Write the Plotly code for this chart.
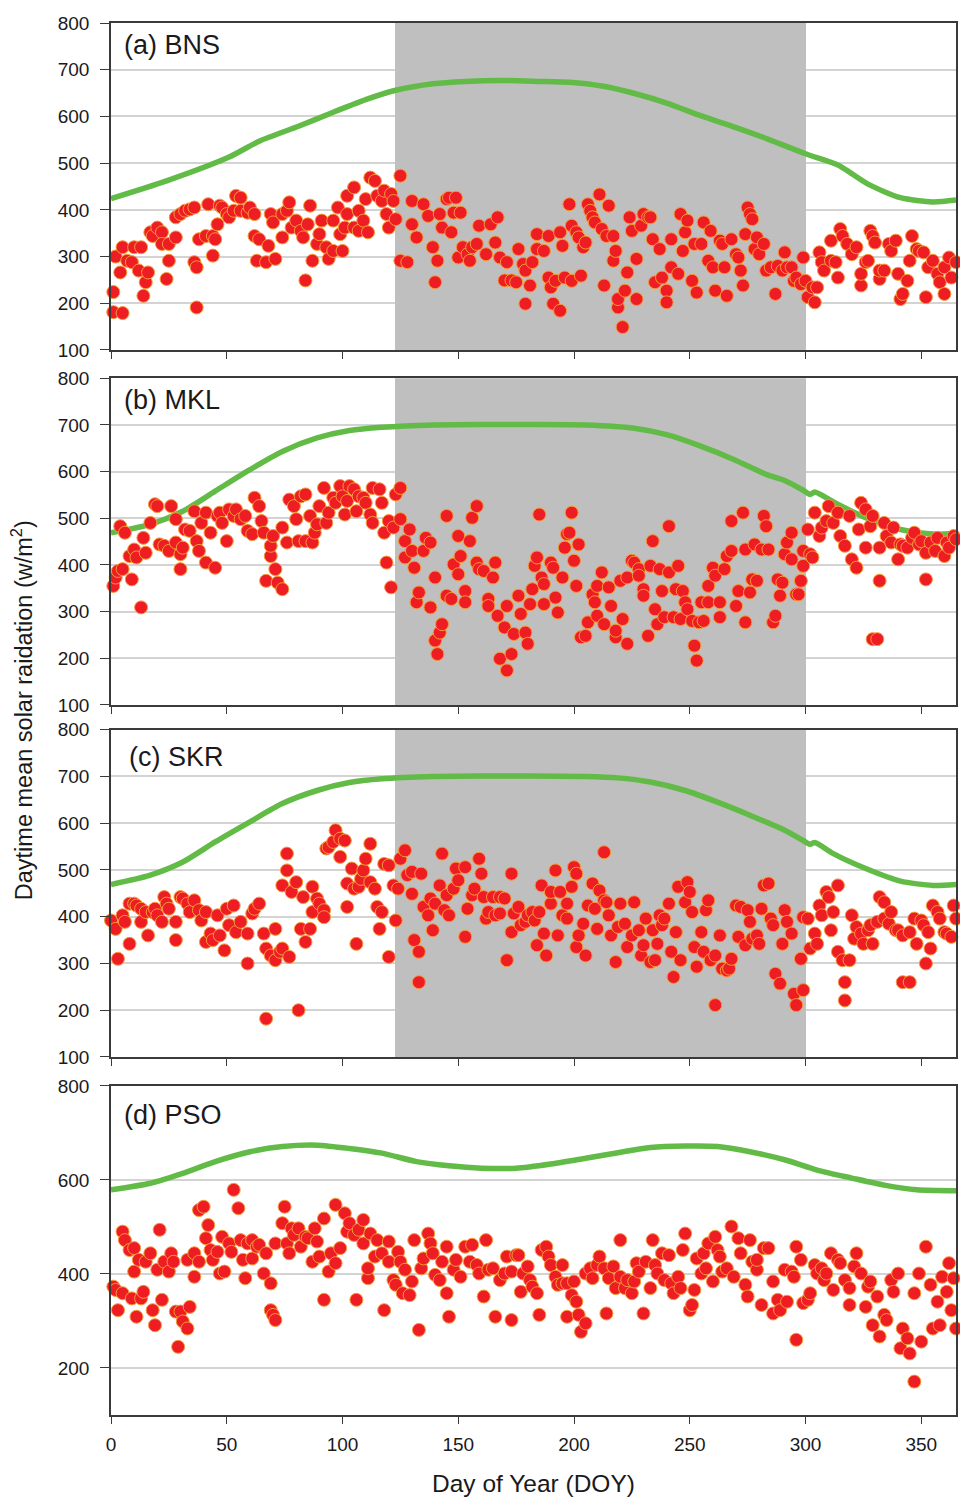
import plotly.graph_objects as go

# ---------------- data ----------------
# Panel (a) BNS : daily daytime-mean solar radiation (DOY, W/m2)
BNS_PTS = [
(1,224),(1,181),(5,179),(2,300),(5,320),(4,266),(7,291),(9,288),(10,320),(12,270),(13,320),(14,216),(15,245),(16,266),
(17,352),(18,344),(20,362),(22,352),(22,327),(24,252),(25,291),(25,327),(28,341),(28,384),(30,391),(32,398),(34,401),
(36,405),(36,288),(37,277),(37,191),(38,337),(41,344),(42,412),(44,344),(45,337),(44,302),(46,369),(47,409),(48,405),
(50,391),(51,384),(53,398),(54,430),(56,426),(56,398),(59,394),(60,405),(62,391),(62,344),(64,337),(63,291),(67,288),
(68,323),(69,391),(70,373),(71,295),(74,341),(74,391),(76,398),(77,416),(78,362),(80,377),(82,355),(83,341),(84,249),
(85,369),(86,409),(87,291),(89,327),(90,348),(91,377),(93,320),(94,295),(96,377),(96,312),(98,405),(99,348),(100,312),
(101,362),(102,391),(102,430),(105,448),(105,362),(107,355),(107,398),(109,377),(110,423),(111,352),(112,469),(114,462),
(115,430),(117,419),(118,441),(119,391),(120,362),(121,434),(122,419),(123,380),(125,473),(125,291),(128,288),(130,419),
(130,369),(132,341),(135,412),(137,387),(139,320),(140,245),(141,291),(142,391),(143,362),(145,423),(146,426),(147,352),
(148,394),(149,426),(150,298),(151,394),(152,320),(154,305),(155,291),(156,320),(158,327),(159,366),(162,305),(164,369),
(166,330),(167,384),(168,298),(170,249),(171,288),(173,249),(175,245),
(176,316),(178,284),(179,270),(181,238),(182,288),(179,199),(184,316),(184,348),(187,312),(189,344),(189,255),(190,234),
(191,199),(192,248),(194,184),(194,352),(195,323),(196,255),(198,412),(199,366),(199,248),(201,352),(202,341),(203,259),
(204,320),(205,330),(206,412),(207,398),(208,384),(209,373),(211,433),(212,359),(213,238),(214,344),(215,409),(217,344),
(217,291),(218,312),(219,191),(219,209),(221,149),(222,227),(223,266),(224,384),(225,355),(227,295),(227,209),(229,366),
(230,391),(232,384),(233,384),(234,337),(235,245),(237,316),(238,255),(240,227),(240,202),(242,277),(242,337),(245,263),
(246,391),(247,312),(248,352),(249,377),(251,248),(252,327),(253,223),(255,327),(256,373),(258,291),(259,355),(260,277),
(261,227),(263,334),(264,327),(265,277),(266,216),(268,337),(270,305),(271,298),(272,270),(273,238),(274,348),(275,405),
(276,391),(277,380),(278,316),(279,341),(280,305),(282,327),(283,270),(285,277),(287,220),(288,280),(290,270),(291,309),
(292,277),(294,277),(295,248),(296,255),(298,241),(299,298),(300,248),(301,213),(303,234),(304,202),(305,234),(306,309),
(307,288),(308,270),(311,334),(311,291),(313,288),(314,255),(315,359),(316,344),(318,327),(320,305),(322,320),(324,238),
(324,263),(326,288),(327,291),(328,355),(329,344),(330,330),(332,252),(332,270),(334,270),(336,327),(337,312),(339,334),
(340,263),(341,209),(342,220),(344,248),(345,291),(346,344),(348,316),(349,312),(351,309),(352,213),(353,277),(355,291),
(357,263),(358,245),(360,220),(360,277),(362,298),(363,255),(365,288),
]
BNS_CURVE_DOY = [0, 24, 51, 64, 81, 96, 110, 123, 139, 153, 168, 185, 198, 212, 227, 241, 255, 270, 284, 300, 314, 318, 327, 341, 355, 365]
BNS_CURVE_SR  = [424, 462, 513, 547, 579, 609, 636, 656, 670, 675, 677, 675, 673, 665, 648, 627, 601, 576, 551, 520, 496, 484, 455, 426, 417, 421]

# Panel (b) MKL
MKL_PTS = [
(1,355),(2,373),(3,387),(5,391),(4,483),(6,469),(9,369),(8,419),(10,433),(11,416),(13,309),(14,458),(15,426),(17,490),
(19,530),(20,526),(21,444),(23,441),(25,430),(26,526),(28,498),(28,448),(30,423),(30,391),(31,437),(32,476),(34,473),
(36,515),(37,451),(38,430),(39,490),(41,405),(41,512),(43,469),(45,394),(46,505),(47,512),(48,490),(50,451),(51,519),
(53,505),(54,519),(56,498),(58,505),(59,473),(61,466),(62,544),(64,526),(65,494),(66,469),(67,366),(69,419),(69,441),
(70,462),(71,391),(72,362),(74,348),(74,480),(76,448),(77,540),(79,526),(80,498),(81,451),(82,547),(84,551),(84,451),
(86,505),(87,448),(88,469),(89,487),(90,526),(92,565),(93,490),(94,512),(96,544),(97,533),(99,569),(100,547),(101,508),
(102,537),(103,569),(105,562),(106,515),(107,547),(109,544),(110,533),(112,508),(113,490),(113,565),(116,562),(117,533),
(118,469),(119,405),(120,494),(121,352),(122,480),(123,551),(125,565),(125,498),(127,416),(127,451),(129,476),(130,430),
(131,394),(132,320),(133,341),(135,430),(136,458),(138,448),(138,309),(140,373),(140,238),(142,255),(143,273),(141,209),
(145,505),(145,334),(147,327),(148,401),(150,462),(150,380),(151,419),(153,344),(153,320),(155,451),(156,501),(158,526),
(158,405),(159,391),(161,387),(163,327),(163,312),(165,373),(166,405),(167,291),(168,199),(170,266),(171,174),(171,312),
(173,209),(174,252),
(176,334),(177,295),(179,255),(180,231),(181,316),(182,348),(183,398),(184,416),(185,508),(186,373),(187,359),(187,316),
(190,405),(191,394),(192,330),(193,298),(195,373),(196,437),(197,466),(198,469),(199,512),(200,409),(201,355),(202,444),
(203,245),(205,248),(206,277),(208,337),(209,320),(210,291),(210,355),(212,384),(213,273),(215,352),(216,312),(218,245),
(218,259),(220,366),(221,284),(223,231),(223,373),(225,409),(226,405),(228,391),(228,377),(230,348),(230,334),(232,248),
(233,398),(234,451),(235,305),(236,273),(237,391),(238,344),(239,288),(241,483),(241,384),(243,288),(244,348),(245,398),
(246,284),(247,344),(248,320),(249,305),(251,280),(252,227),(253,195),(254,277),(255,320),(256,280),(258,355),(258,320),
(260,394),(261,377),(263,320),(263,288),(265,391),(266,419),(268,430),(268,494),(270,312),(271,344),(273,512),(274,433),
(274,277),(276,341),(277,369),(278,444),(279,366),(281,433),(282,505),(283,483),(284,433),(286,277),(287,291),(288,369),
(289,334),(290,362),(291,423),(292,448),(294,469),(294,412),(296,337),(297,337),(298,366),(299,398),(299,430),(301,476),
(302,423),(303,416),(304,512),(306,462),(307,480),(309,494),(310,526),(312,490),(314,512),(315,462),(317,441),(319,505),
(320,412),(322,394),(323,476),(324,533),(326,519),(326,437),(328,483),(329,505),(329,241),(331,241),(332,366),(332,437),
(334,490),(335,462),(337,448),(338,480),(340,412),(341,444),(342,441),(344,437),(346,458),(347,469),(349,444),(350,451),
(352,369),(352,426),(354,448),(356,430),(357,458),(360,419),(361,448),(362,437),(364,462),(365,455),
]
MKL_CURVE_DOY = [0, 17, 31, 45, 60, 74, 89, 103, 117, 139, 160, 180, 205, 226, 240, 255, 269, 283, 291, 299, 302, 304, 312, 326, 341, 355, 365]
MKL_CURVE_SR  = [469, 487, 515, 558, 604, 643, 672, 688, 695, 700, 701, 701, 700, 693, 679, 654, 626, 594, 581, 560, 551, 556, 535, 501, 476, 466, 468]

# Panel (c) SKR
SKR_PTS = [
(0,392),(2,374),(3,310),(5,403),(6,389),(8,342),(8,428),(10,428),(11,424),(13,417),(13,389),(15,410),(16,360),(18,410),
(19,417),(20,403),(22,389),(23,442),(24,428),(25,417),(28,389),(28,350),(30,442),(31,439),(33,428),(34,410),(36,435),
(38,414),(39,392),(41,346),(41,410),(43,364),(44,350),(46,403),(47,360),(49,328),(50,417),(51,382),(53,424),(54,367),
(56,389),(59,300),(59,364),(61,407),(62,417),(64,428),(66,364),(67,332),(67,182),(69,317),(71,374),(71,307),(73,325),
(74,332),(74,467),(76,499),(76,535),(77,314),(78,453),(80,474),(81,200),(82,374),(83,442),(84,346),(86,374),(87,464),
(87,410),(89,439),(90,428),(92,414),(92,399),(93,546),(94,549),(96,560),(97,585),(99,567),(99,528),(101,563),(102,471),
(102,421),(104,503),(105,460),(106,342),(107,464),(108,481),(109,499),(110,524),(112,474),(112,556),(114,460),(115,421),
(116,374),(117,410),(118,513),(120,510),(120,314),(122,467),(123,392),(124,460),(125,524),(127,542),(128,489),(130,449),
(130,496),(131,350),(133,325),(133,260),(134,492),(135,421),(137,403),(138,439),(139,371),(140,428),(142,467),(143,535),
(144,414),(145,446),(146,403),(148,460),(149,503),(150,478),(153,506),(153,357),(154,417),(156,446),(157,460),(159,524),
(160,492),(161,442),(162,396),(163,410),(165,442),(166,403),(168,442),(168,407),(170,439),(171,307),(173,492),(173,367),
(174,407),
(176,421),(177,382),(179,389),(180,403),(182,410),(183,392),(184,339),(185,410),(186,467),(187,364),(188,317),(190,428),
(190,453),(192,499),(193,360),(194,453),(195,403),(197,396),(197,428),(199,464),(200,506),(201,492),(201,335),(202,360),
(204,385),(205,317),(206,424),(208,471),(209,417),(210,374),(211,456),(213,435),(213,538),(214,431),(215,403),(216,360),
(218,303),(219,378),(220,428),(222,385),(223,335),(225,360),(226,431),(228,371),(229,317),(230,339),(231,396),(233,303),
(234,371),(235,307),(236,342),(237,403),(238,382),(239,396),(241,428),(242,325),(243,271),(244,367),(245,464),(246,307),
(248,431),(249,474),(250,453),(251,410),(252,335),(253,293),(255,367),(256,325),(257,414),(258,435),(259,307),(261,211),
(261,317),(263,360),(264,289),(266,285),(267,289),(268,310),(270,424),(271,357),(272,421),(274,339),(275,414),(276,389),
(277,353),(279,360),(280,342),(281,417),(282,467),(284,471),(285,396),(286,382),(287,278),(289,257),(290,342),(291,414),
(292,389),(294,364),(295,235),(296,211),(298,310),(299,243),(299,399),(301,396),(302,332),(304,364),(305,342),(306,424),
(307,403),(309,453),(310,442),(311,371),(312,410),(314,467),(314,325),(316,307),(317,260),(317,221),(319,307),(320,403),
(321,353),(322,378),(324,364),(325,342),(327,371),(328,382),(329,342),(331,389),(332,442),(334,431),(334,396),(336,385),
(337,410),(339,371),(340,371),(342,360),(342,260),(345,260),(345,367),(347,396),(348,342),(350,392),(351,382),(352,300),
(353,367),(354,332),(355,424),(357,410),(358,396),(360,367),(361,364),(363,357),(364,424),(365,396),
]
SKR_CURVE_DOY = [0, 17, 31, 45, 60, 74, 89, 103, 117, 139, 160, 180, 205, 219, 233, 248, 262, 276, 291, 299, 302, 304, 312, 326, 341, 355, 365]
SKR_CURVE_SR  = [469, 489, 517, 560, 603, 642, 670, 687, 695, 700, 701, 701, 700, 697, 688, 670, 645, 617, 585, 563, 555, 559, 535, 503, 476, 467, 469]

# Panel (d) PSO
PSO_PTS = [
(1,373),(2,366),(3,323),(5,359),(5,490),(6,472),(8,451),(9,348),(10,455),(10,405),(11,309),(12,430),(13,348),(14,362),
(15,426),(17,444),(18,323),(19,291),(20,409),(21,494),(22,345),(23,426),(25,405),(26,444),(27,426),(28,320),(29,245),
(30,320),(31,299),(33,284),(33,430),(34,330),(36,444),(36,394),(38,426),(38,536),(40,543),(42,504),(41,476),(43,451),
(44,430),(46,447),(47,401),(48,479),(49,405),(51,465),(52,447),(53,579),(55,540),(56,472),(57,430),(58,391),(59,465),
(61,472),(61,433),(63,458),(64,462),(66,401),(67,444),(69,380),(69,323),(70,313),(71,302),(71,465),(74,508),(75,543),
(76,465),(77,444),(78,497),(79,483),(81,497),(82,458),(84,479),(85,476),(87,426),(88,497),(89,469),(90,437),(92,518),
(92,345),(94,405),(95,444),(97,547),(97,423),(99,455),(101,529),(102,490),(103,508),(105,483),(106,345),(107,494),
(109,515),(109,465),(111,391),(111,412),(112,486),(114,437),(115,472),(117,444),(118,323),(120,469),(120,426),(122,387),
(123,377),(124,447),(125,426),(126,359),(127,409),(129,355),(130,384),(131,472),(133,281),(134,412),(135,433),(137,486),
(138,465),(139,444),(140,398),(142,387),(143,426),(145,458),(145,359),(146,309),(148,409),(149,430),(151,394),(153,458),
(155,426),(156,462),(158,419),(159,401),(161,352),(162,472),(163,409),(165,412),(166,309),(168,387),(170,401),(171,437),
(173,302),(173,405),(175,440),
(176,440),(177,362),(178,401),(180,416),(181,387),(182,373),(184,359),(185,313),(186,451),(188,458),(189,437),(190,419),
(192,394),(193,377),(195,380),(195,419),(197,380),(197,309),(199,355),(200,384),(201,341),(202,313),(203,277),(205,295),
(205,401),(207,412),(208,391),(210,419),(211,437),(213,412),(214,316),(215,391),(217,416),(218,370),(220,472),(220,394),
(222,370),(223,387),(225,359),(226,384),(227,423),(228,405),(230,316),(231,426),(233,370),(234,472),(235,419),(236,401),
(238,444),(239,387),(241,440),(242,380),(243,359),(245,394),(246,370),(247,451),(248,486),(250,323),(251,334),(252,366),
(253,433),(255,401),(256,444),(257,412),(258,465),(260,384),(261,479),(262,451),(263,437),(264,405),(266,412),(268,501),
(269,394),(271,476),(272,444),(274,377),(275,352),(276,472),(277,426),(279,409),(279,430),(281,334),(282,455),(284,455),
(286,384),(286,316),(288,345),(289,323),(291,409),(292,341),(294,405),(295,394),(296,260),(296,458),(298,430),(299,338),
(301,345),(302,359),(304,419),(305,401),(307,412),(308,387),(309,401),(311,444),(312,366),(314,430),(315,423),(317,387),
(319,370),(319,334),(321,416),(322,444),(324,401),(326,330),(327,373),(328,384),(329,291),(331,352),(332,267),(334,313),
(335,302),(337,387),(338,362),(340,401),(341,242),(342,284),(344,263),(345,231),(347,171),(347,359),(349,401),(350,256),
(352,458),(354,377),(355,284),(357,341),(358,291),(359,394),(361,362),(362,423),(363,323),(364,391),(365,284),
]
PSO_CURVE_DOY = [0, 17, 31, 45, 60, 74, 89, 103, 117, 132, 146, 160, 175, 190, 205, 219, 233, 248, 262, 276, 291, 305, 320, 334, 348, 365]
PSO_CURVE_SR  = [579, 593, 614, 639, 660, 671, 674, 667, 657, 639, 630, 625, 625, 634, 646, 658, 669, 672, 671, 660, 643, 621, 604, 589, 579, 577]

PANEL_LABELS = ["(a) BNS", "(b) MKL", "(c) SKR", "(d) PSO"]
SHADE_DOY = [122.5, 300]           # grey band (panels a-c)
Y_RANGE = [100, 800]
X_RANGE = [0, 365]
X_TICKS = [0, 50, 100, 150, 200, 250, 300, 350]
Y_TICKS_ABC = [100, 200, 300, 400, 500, 600, 700, 800]
Y_TICKS_D = [200, 400, 600, 800]

# ---------------- styling ----------------
W, H = 960, 1497
ML, MR, MT, MB = 111, 2, 23, 82
DOMAINS = [(0.7651, 1.0), (0.5101, 0.7448), (0.2572, 0.4923), (0.0, 0.2364)]
LABEL_POS = [(122, 44.5), (122, 399.5), (127, 757), (122, 1115)]
AX = "#3a3a3a"
GRID = "#D3D3D3"
TXT = "#1a1a1a"
FONT = "Liberation Sans, Arial, sans-serif"
RED = "#EE1D24"
ORANGE = "#F59A3A"
GREEN = "#62BB46"
SHADE = "#BFBFBF"

panels = [
    (BNS_PTS, BNS_CURVE_DOY, BNS_CURVE_SR, True),
    (MKL_PTS, MKL_CURVE_DOY, MKL_CURVE_SR, True),
    (SKR_PTS, SKR_CURVE_DOY, SKR_CURVE_SR, True),
    (PSO_PTS, PSO_CURVE_DOY, PSO_CURVE_SR, False),
]

fig = go.Figure()
layout = dict(
    width=W, height=H,
    margin=dict(l=ML, r=MR, t=MT, b=MB),
    paper_bgcolor="white", plot_bgcolor="white",
    showlegend=False, bargap=0,
    font=dict(family=FONT, color=TXT, size=19),
)
annotations = []
plot_h = H - MT - MB
plot_w = W - ML - MR

for i, (pts, cdoy, csr, shaded) in enumerate(panels, start=1):
    xs = "" if i == 1 else str(i)
    doy = [p[0] for p in pts]
    sr = [p[1] for p in pts]

    if shaded:
        # grey band as a bar spanning the full y range (drawn above grid, below data)
        fig.add_trace(go.Bar(
            x=[(SHADE_DOY[0] + SHADE_DOY[1]) / 2], y=[Y_RANGE[1] - Y_RANGE[0]],
            base=[Y_RANGE[0]], width=[SHADE_DOY[1] - SHADE_DOY[0]],
            marker=dict(color=SHADE, line=dict(width=0)),
            xaxis="x" + xs, yaxis="y" + xs, hoverinfo="skip"))
    fig.add_trace(go.Scatter(
        x=cdoy, y=csr, mode="lines",
        line=dict(color=GREEN, width=5.5, shape="spline", smoothing=0.7),
        xaxis="x" + xs, yaxis="y" + xs, hoverinfo="skip"))
    fig.add_trace(go.Scatter(
        x=doy, y=sr, mode="markers", cliponaxis=False,
        marker=dict(size=13, color=RED, line=dict(color=ORANGE, width=1)),
        xaxis="x" + xs, yaxis="y" + xs))

    is_last = (i == 4)
    layout["xaxis" + xs] = dict(
        domain=[0, 1], anchor="y" + xs, range=X_RANGE,
        tickvals=X_TICKS, ticks="outside", ticklen=7, tickwidth=1.3, tickcolor=AX,
        showline=True, linecolor=AX, linewidth=1.5, mirror=True,
        showgrid=False, zeroline=False,
        showticklabels=is_last, ticklabelstandoff=4,
        tickfont=dict(size=19, color=TXT, family=FONT),
    )
    layout["yaxis" + xs] = dict(
        domain=list(DOMAINS[i - 1]), anchor="x" + xs, range=Y_RANGE,
        tickvals=(Y_TICKS_D if is_last else Y_TICKS_ABC),
        ticks="outside", ticklen=9, tickwidth=1.3, tickcolor=AX,
        showline=True, linecolor=AX, linewidth=1.5, mirror=True,
        showgrid=True, gridcolor=GRID, gridwidth=1.5, zeroline=False,
        ticklabelstandoff=7,
        tickfont=dict(size=19, color=TXT, family=FONT),
    )

    lx, ly = LABEL_POS[i - 1]
    annotations.append(dict(
        text=PANEL_LABELS[i - 1], xref="paper", yref="paper",
        x=(lx - ML) / plot_w, y=(H - MB - ly) / plot_h,
        xanchor="left", yanchor="middle", showarrow=False,
        font=dict(size=27, color=TXT, family=FONT)))

annotations.append(dict(
    text="Daytime mean solar raidation (w/m<sup>2</sup>)", xref="paper", yref="paper",
    x=(22 - ML) / plot_w, y=(H - MB - 710) / plot_h, textangle=-90,
    xanchor="center", yanchor="middle", showarrow=False,
    font=dict(size=23.5, color=TXT, family=FONT)))
annotations.append(dict(
    text="Day of Year (DOY)", xref="paper", yref="paper",
    x=(535 - ML) / plot_w, y=(H - MB - 1483) / plot_h,
    xanchor="center", yanchor="middle", showarrow=False,
    font=dict(size=24.5, color=TXT, family=FONT)))

layout["annotations"] = annotations
fig.update_layout(**layout)
fig.write_html("out.html")
